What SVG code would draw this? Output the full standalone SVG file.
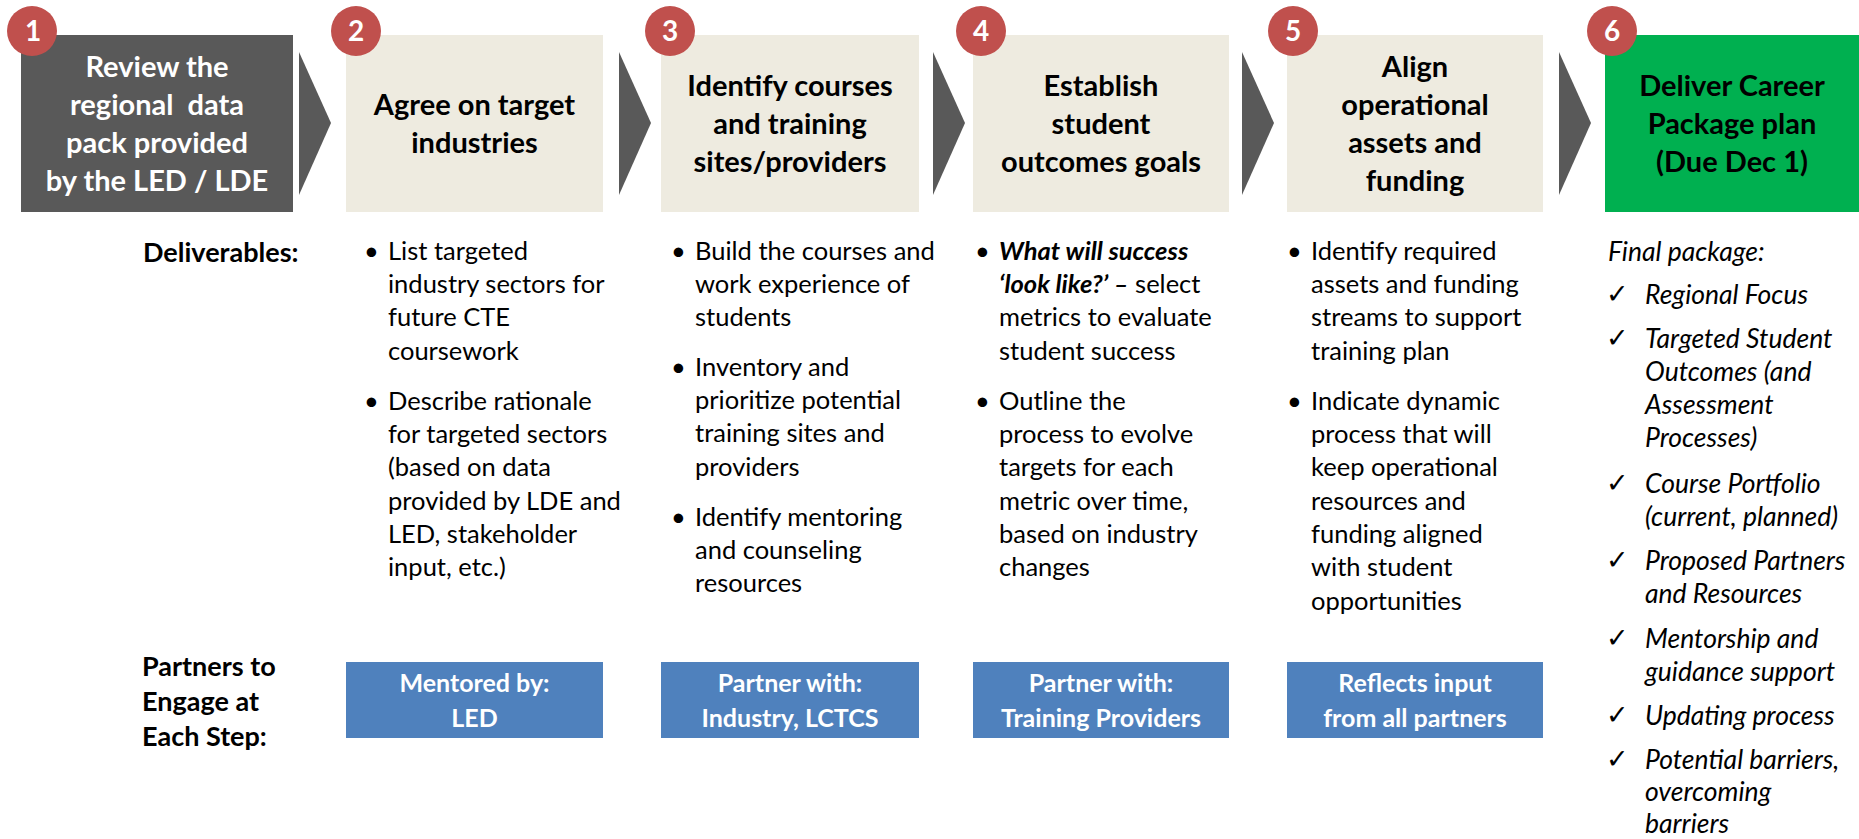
<svg xmlns="http://www.w3.org/2000/svg" width="1859" height="839" viewBox="0 0 1859 839">
<style>
  .step{fill:#EEEBE0}
  .dark{fill:#595959}
  .green{fill:#00B050}
  .blue{fill:#4F81BD}
  .badge{fill:#C0504D}
  .chev{fill:#595959}
  .t{font-family:Lato,"Liberation Sans",sans-serif;font-weight:bold;font-size:29px;text-anchor:middle;fill:#000}
  .tw{fill:#fff}
  .num{font-family:Lato,"Liberation Sans",sans-serif;font-weight:bold;font-size:28px;text-anchor:middle;fill:#fff}
  .b{font-family:Lato,"Liberation Sans",sans-serif;font-size:25.5px;fill:#000}
  .f{font-family:Lato,"Liberation Sans",sans-serif;font-size:26.5px;font-style:italic;fill:#000}
  .lbl{font-family:Lato,"Liberation Sans",sans-serif;font-weight:bold;font-size:27px;fill:#000}
  .bi{font-weight:bold;font-style:italic}
  .chk{font-family:"DejaVu Sans",sans-serif;font-style:normal;font-size:27px;fill:#000}
  .pt{font-family:Lato,"Liberation Sans",sans-serif;font-weight:bold;font-size:25px;text-anchor:middle;fill:#fff}
</style>
<defs>
  <polygon id="chevron" points="0,52 32,123 0,195"/>
</defs>

<g id="connectors">
  <use href="#chevron" class="chev" x="299"/>
  <use href="#chevron" class="chev" x="619"/>
  <use href="#chevron" class="chev" x="933"/>
  <use href="#chevron" class="chev" x="1242"/>
  <use href="#chevron" class="chev" x="1559"/>
</g>

<g id="step1">
  <rect class="dark" x="21" y="35" width="272" height="177"/>
  <text class="t tw" x="157" y="77">Review the</text>
  <text class="t tw" x="157" y="115" xml:space="preserve">regional  data</text>
  <text class="t tw" x="157" y="153">pack provided</text>
  <text class="t tw" x="157" y="191">by the LED / LDE</text>
  <circle class="badge" cx="32" cy="31" r="25"/>
  <text class="num" x="33" y="41">1</text>
</g>

<g id="step2">
  <rect class="step" x="346" y="35" width="257" height="177"/>
  <text class="t" x="474.5" y="115">Agree on target</text>
  <text class="t" x="474.5" y="153">industries</text>
  <circle class="badge" cx="356" cy="31" r="25"/>
  <text class="num" x="356" y="41">2</text>
</g>

<g id="step3">
  <rect class="step" x="661" y="35" width="258" height="177"/>
  <text class="t" x="790" y="96">Identify courses</text>
  <text class="t" x="790" y="134">and training</text>
  <text class="t" x="790" y="172">sites/providers</text>
  <circle class="badge" cx="670" cy="31" r="25"/>
  <text class="num" x="670" y="41">3</text>
</g>

<g id="step4">
  <rect class="step" x="973" y="35" width="256" height="177"/>
  <text class="t" x="1101" y="96">Establish</text>
  <text class="t" x="1101" y="134">student</text>
  <text class="t" x="1101" y="172">outcomes goals</text>
  <circle class="badge" cx="981" cy="31" r="25"/>
  <text class="num" x="981" y="41">4</text>
</g>

<g id="step5">
  <rect class="step" x="1287" y="35" width="256" height="177"/>
  <text class="t" x="1415" y="77">Align</text>
  <text class="t" x="1415" y="115">operational</text>
  <text class="t" x="1415" y="153">assets and</text>
  <text class="t" x="1415" y="191">funding</text>
  <circle class="badge" cx="1293" cy="31" r="25"/>
  <text class="num" x="1293" y="41">5</text>
</g>

<g id="step6">
  <rect class="green" x="1605" y="35" width="254" height="177"/>
  <text class="t" x="1732" y="96">Deliver Career</text>
  <text class="t" x="1732" y="134">Package plan</text>
  <text class="t" x="1732" y="172">(Due Dec 1)</text>
  <circle class="badge" cx="1612" cy="31" r="25"/>
  <text class="num" x="1612" y="41">6</text>
</g>

<g id="deliverables-label">
  <text class="lbl" x="143" y="262">Deliverables:</text>
</g>

<g id="deliverables-2" class="b">
  <text x="364" y="260">•</text>
  <text x="388" y="260">List targeted</text>
  <text x="388" y="293">industry sectors for</text>
  <text x="388" y="326">future CTE</text>
  <text x="388" y="360">coursework</text>
  <text x="364" y="410">•</text>
  <text x="388" y="410">Describe rationale</text>
  <text x="388" y="443">for targeted sectors</text>
  <text x="388" y="476">(based on data</text>
  <text x="388" y="510">provided by LDE and</text>
  <text x="388" y="543">LED, stakeholder</text>
  <text x="388" y="576">input, etc.)</text>
</g>

<g id="deliverables-3" class="b">
  <text x="671" y="260">•</text>
  <text x="695" y="260">Build the courses and</text>
  <text x="695" y="293">work experience of</text>
  <text x="695" y="326">students</text>
  <text x="671" y="376">•</text>
  <text x="695" y="376">Inventory and</text>
  <text x="695" y="409">prioritize potential</text>
  <text x="695" y="442">training sites and</text>
  <text x="695" y="476">providers</text>
  <text x="671" y="526">•</text>
  <text x="695" y="526">Identify mentoring</text>
  <text x="695" y="559">and counseling</text>
  <text x="695" y="592">resources</text>
</g>

<g id="deliverables-4" class="b">
  <text x="975" y="260">•</text>
  <text x="999" y="260" class="bi">What will success</text>
  <text x="999" y="293"><tspan class="bi">‘look like?’ –</tspan> select</text>
  <text x="999" y="326">metrics to evaluate</text>
  <text x="999" y="360">student success</text>
  <text x="975" y="410">•</text>
  <text x="999" y="410">Outline the</text>
  <text x="999" y="443">process to evolve</text>
  <text x="999" y="476">targets for each</text>
  <text x="999" y="510">metric over time,</text>
  <text x="999" y="543">based on industry</text>
  <text x="999" y="576">changes</text>
</g>

<g id="deliverables-5" class="b">
  <text x="1287" y="260">•</text>
  <text x="1311" y="260">Identify required</text>
  <text x="1311" y="293">assets and funding</text>
  <text x="1311" y="326">streams to support</text>
  <text x="1311" y="360">training plan</text>
  <text x="1287" y="410">•</text>
  <text x="1311" y="410">Indicate dynamic</text>
  <text x="1311" y="443">process that will</text>
  <text x="1311" y="476">keep operational</text>
  <text x="1311" y="510">resources and</text>
  <text x="1311" y="543">funding aligned</text>
  <text x="1311" y="576">with student</text>
  <text x="1311" y="610">opportunities</text>
</g>

<g id="deliverables-6" class="f">
  <text x="1608" y="261">Final package:</text>
  <text class="chk" x="1606" y="303">✓</text>
  <text x="1645" y="304">Regional Focus</text>
  <text class="chk" x="1606" y="347">✓</text>
  <text x="1645" y="348">Targeted Student</text>
  <text x="1645" y="381">Outcomes (and</text>
  <text x="1645" y="414">Assessment</text>
  <text x="1645" y="447">Processes)</text>
  <text class="chk" x="1606" y="492">✓</text>
  <text x="1645" y="493">Course Portfolio</text>
  <text x="1645" y="526">(current, planned)</text>
  <text class="chk" x="1606" y="569">✓</text>
  <text x="1645" y="570">Proposed Partners</text>
  <text x="1645" y="603">and Resources</text>
  <text class="chk" x="1606" y="647">✓</text>
  <text x="1645" y="648">Mentorship and</text>
  <text x="1645" y="681">guidance support</text>
  <text class="chk" x="1606" y="724">✓</text>
  <text x="1645" y="725">Updating process</text>
  <text class="chk" x="1606" y="768">✓</text>
  <text x="1645" y="769">Potential barriers,</text>
  <text x="1645" y="801">overcoming</text>
  <text x="1645" y="833">barriers</text>
</g>

<g id="partners-label" class="lbl">
  <text x="142" y="676">Partners to</text>
  <text x="142" y="711">Engage at</text>
  <text x="142" y="746">Each Step:</text>
</g>

<g id="partner2">
  <rect class="blue" x="346" y="662" width="257" height="76"/>
  <text class="pt" x="474.5" y="692">Mentored by:</text>
  <text class="pt" x="474.5" y="727">LED</text>
</g>
<g id="partner3">
  <rect class="blue" x="661" y="662" width="258" height="76"/>
  <text class="pt" x="790" y="692">Partner with:</text>
  <text class="pt" x="790" y="727">Industry, LCTCS</text>
</g>
<g id="partner4">
  <rect class="blue" x="973" y="662" width="256" height="76"/>
  <text class="pt" x="1101" y="692">Partner with:</text>
  <text class="pt" x="1101" y="727">Training Providers</text>
</g>
<g id="partner5">
  <rect class="blue" x="1287" y="662" width="256" height="76"/>
  <text class="pt" x="1415" y="692">Reflects input</text>
  <text class="pt" x="1415" y="727">from all partners</text>
</g>
</svg>
